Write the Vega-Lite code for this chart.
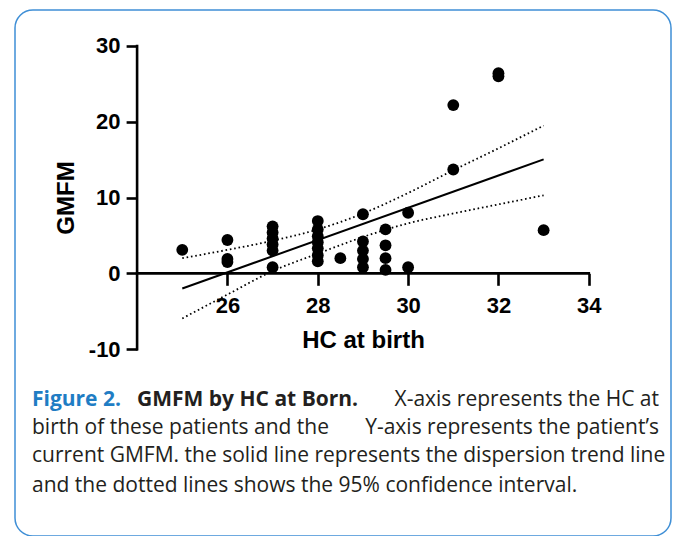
{
  "$schema": "https://vega.github.io/schema/vega-lite/v6.json",
  "width": 656,
  "height": 526,
  "autosize": {"type": "none"},
  "padding": {"left": 15, "top": 10, "right": 7, "bottom": 0},
  "background": "white",
  "config": {
    "view": {"stroke": "#3f8fd6", "strokeWidth": 1.5, "cornerRadius": 18, "fill": "white"},
    "axis": {"grid": false}
  },
  "datasets": {
    "points": [
      {"hc": 25, "gmfm": 3.1},
      {"hc": 26, "gmfm": 4.4}, {"hc": 26, "gmfm": 1.9}, {"hc": 26, "gmfm": 1.5},
      {"hc": 27, "gmfm": 6.2}, {"hc": 27, "gmfm": 5.4}, {"hc": 27, "gmfm": 4.6}, {"hc": 27, "gmfm": 3.8}, {"hc": 27, "gmfm": 3.0}, {"hc": 27, "gmfm": 0.8},
      {"hc": 28, "gmfm": 6.9}, {"hc": 28, "gmfm": 5.8}, {"hc": 28, "gmfm": 4.9}, {"hc": 28, "gmfm": 4.1}, {"hc": 28, "gmfm": 3.3}, {"hc": 28, "gmfm": 2.4}, {"hc": 28, "gmfm": 1.6},
      {"hc": 28.5, "gmfm": 2.0},
      {"hc": 29, "gmfm": 7.8}, {"hc": 29, "gmfm": 4.2}, {"hc": 29, "gmfm": 3.0}, {"hc": 29, "gmfm": 1.9}, {"hc": 29, "gmfm": 0.8},
      {"hc": 29.5, "gmfm": 5.8}, {"hc": 29.5, "gmfm": 3.7}, {"hc": 29.5, "gmfm": 2.0}, {"hc": 29.5, "gmfm": 0.45},
      {"hc": 30, "gmfm": 8.0}, {"hc": 30, "gmfm": 0.8},
      {"hc": 31, "gmfm": 22.2}, {"hc": 31, "gmfm": 13.7},
      {"hc": 32, "gmfm": 26.0}, {"hc": 32, "gmfm": 26.4},
      {"hc": 33, "gmfm": 5.7}
    ],
    "fit": [
      {"hc": 25, "gmfm": -2.0},
      {"hc": 33, "gmfm": 15.04}
    ],
    "ci": [
      {"band": "upper", "hc": 25, "gmfm": 2.0},
      {"band": "upper", "hc": 26, "gmfm": 3.1},
      {"band": "upper", "hc": 27, "gmfm": 4.3},
      {"band": "upper", "hc": 28, "gmfm": 5.8},
      {"band": "upper", "hc": 29, "gmfm": 7.9},
      {"band": "upper", "hc": 30, "gmfm": 10.6},
      {"band": "upper", "hc": 31, "gmfm": 13.6},
      {"band": "upper", "hc": 32, "gmfm": 16.5},
      {"band": "upper", "hc": 33, "gmfm": 19.5},
      {"band": "lower", "hc": 25, "gmfm": -5.95},
      {"band": "lower", "hc": 26, "gmfm": -2.8},
      {"band": "lower", "hc": 27, "gmfm": 0.3},
      {"band": "lower", "hc": 28, "gmfm": 2.6},
      {"band": "lower", "hc": 29, "gmfm": 4.8},
      {"band": "lower", "hc": 30, "gmfm": 6.6},
      {"band": "lower", "hc": 31, "gmfm": 7.9},
      {"band": "lower", "hc": 32, "gmfm": 9.1},
      {"band": "lower", "hc": 33, "gmfm": 10.3}
    ]
  },
  "layer": [
    {
      "data": {"name": "points"},
      "mark": {"type": "circle", "size": 140, "color": "black", "opacity": 1},
      "encoding": {
        "x": {
          "field": "hc", "type": "quantitative",
          "scale": {"domain": [21.297, 35.82], "nice": false, "zero": false},
          "axis": {
            "orient": "bottom", "offset": -262.7, "values": [26, 28, 30, 32, 34],
            "domain": false, "grid": false,
            "tickSize": 12, "tickWidth": 2.6, "tickColor": "black",
            "labelFont": "Liberation Sans", "labelFontWeight": "bold", "labelFontSize": 22, "labelColor": "black",
            "labelPadding": 10, "labelFlush": false, "labelOverlap": false, "labelBound": false,
            "labelExpr": "datum.value + ''",
            "title": "HC at birth", "titleFont": "Liberation Sans", "titleFontWeight": "bold", "titleFontSize": 24, "titleColor": "black",
            "titleX": 348, "titleY": 74, "titleAlign": "center", "titleBaseline": "alphabetic", "titleAnchor": null
          }
        },
        "y": {
          "field": "gmfm", "type": "quantitative",
          "scale": {"domain": [-34.657, 34.749], "nice": false, "zero": false},
          "axis": {
            "orient": "left", "offset": -122.1, "values": [-10, 0, 10, 20, 30],
            "domain": false, "grid": false,
            "tickSize": 11, "tickWidth": 2.6, "tickColor": "black",
            "labelFont": "Liberation Sans", "labelFontWeight": "bold", "labelFontSize": 22, "labelColor": "black",
            "labelPadding": 6, "labelFlush": false, "labelOverlap": false, "labelBound": false,
            "labelExpr": "datum.value + ''",
            "title": "GMFM", "titleFont": "Liberation Sans", "titleFontWeight": "bold", "titleFontSize": 24, "titleColor": "black",
            "titleX": -71, "titleY": 187.5, "titleAngle": -90, "titleAlign": "center", "titleBaseline": "middle", "titleAnchor": null
          }
        }
      }
    },
    {
      "data": {"name": "fit"},
      "mark": {"type": "line", "color": "black", "strokeWidth": 2},
      "encoding": {
        "x": {"field": "hc", "type": "quantitative"},
        "y": {"field": "gmfm", "type": "quantitative"}
      }
    },
    {
      "data": {"name": "ci"},
      "mark": {"type": "line", "color": "black", "strokeWidth": 1.8, "strokeDash": [1.6, 2.8], "interpolate": "monotone"},
      "encoding": {
        "x": {"field": "hc", "type": "quantitative"},
        "y": {"field": "gmfm", "type": "quantitative"},
        "detail": {"field": "band"}
      }
    },
    {
      "data": {"values": [{}]},
      "mark": {"type": "rule", "color": "black", "strokeWidth": 2.6, "strokeCap": "square"},
      "encoding": {
        "x": {"datum": 24, "type": "quantitative"},
        "x2": {"datum": 34},
        "y": {"datum": 0, "type": "quantitative"}
      }
    },
    {
      "data": {"values": [{}]},
      "mark": {"type": "rule", "color": "black", "strokeWidth": 2.6, "strokeCap": "square"},
      "encoding": {
        "x": {"datum": 24, "type": "quantitative"},
        "y": {"datum": -10, "type": "quantitative"},
        "y2": {"datum": 30}
      }
    },
    {
      "data": {"values": [{"t": "Figure 2."}]},
      "mark": {"type": "text", "align": "left", "baseline": "alphabetic", "font": "Open Sans", "fontSize": 21, "fontWeight": "bold", "color": "#1f7dc4"},
      "encoding": {
        "x": {"datum": 21.673, "type": "quantitative"},
        "y": {"datum": -17.47, "type": "quantitative"},
        "text": {"field": "t"}
      }
    },
    {
      "data": {"values": [{"t": "GMFM by HC at Born."}]},
      "mark": {"type": "text", "align": "left", "baseline": "alphabetic", "font": "Open Sans", "fontSize": 21, "fontWeight": "bold", "color": "#231f20"},
      "encoding": {
        "x": {"datum": 23.998, "type": "quantitative"},
        "y": {"datum": -17.47, "type": "quantitative"},
        "text": {"field": "t"}
      }
    },
    {
      "data": {"values": [{"t": "X-axis represents the HC at"}]},
      "mark": {"type": "text", "align": "right", "baseline": "alphabetic", "font": "Open Sans", "fontSize": 21, "color": "#231f20"},
      "encoding": {
        "x": {"datum": 35.554, "type": "quantitative"},
        "y": {"datum": -17.47, "type": "quantitative"},
        "text": {"field": "t"}
      }
    },
    {
      "data": {"values": [{"t": "birth of these patients and the"}]},
      "mark": {"type": "text", "align": "left", "baseline": "alphabetic", "font": "Open Sans", "fontSize": 21, "color": "#231f20"},
      "encoding": {
        "x": {"datum": 21.673, "type": "quantitative"},
        "y": {"datum": -21.2, "type": "quantitative"},
        "text": {"field": "t"}
      }
    },
    {
      "data": {"values": [{"t": "Y-axis represents the patient’s"}]},
      "mark": {"type": "text", "align": "right", "baseline": "alphabetic", "font": "Open Sans", "fontSize": 21, "color": "#231f20"},
      "encoding": {
        "x": {"datum": 35.554, "type": "quantitative"},
        "y": {"datum": -21.2, "type": "quantitative"},
        "text": {"field": "t"}
      }
    },
    {
      "data": {"values": [{"t": "current GMFM. the solid line represents the dispersion trend line"}]},
      "mark": {"type": "text", "align": "left", "baseline": "alphabetic", "font": "Open Sans", "fontSize": 21, "color": "#231f20"},
      "encoding": {
        "x": {"datum": 21.673, "type": "quantitative"},
        "y": {"datum": -24.93, "type": "quantitative"},
        "text": {"field": "t"}
      }
    },
    {
      "data": {"values": [{"t": "and the dotted lines shows the 95% confidence interval."}]},
      "mark": {"type": "text", "align": "left", "baseline": "alphabetic", "font": "Open Sans", "fontSize": 21, "color": "#231f20"},
      "encoding": {
        "x": {"datum": 21.673, "type": "quantitative"},
        "y": {"datum": -28.81, "type": "quantitative"},
        "text": {"field": "t"}
      }
    }
  ]
}
